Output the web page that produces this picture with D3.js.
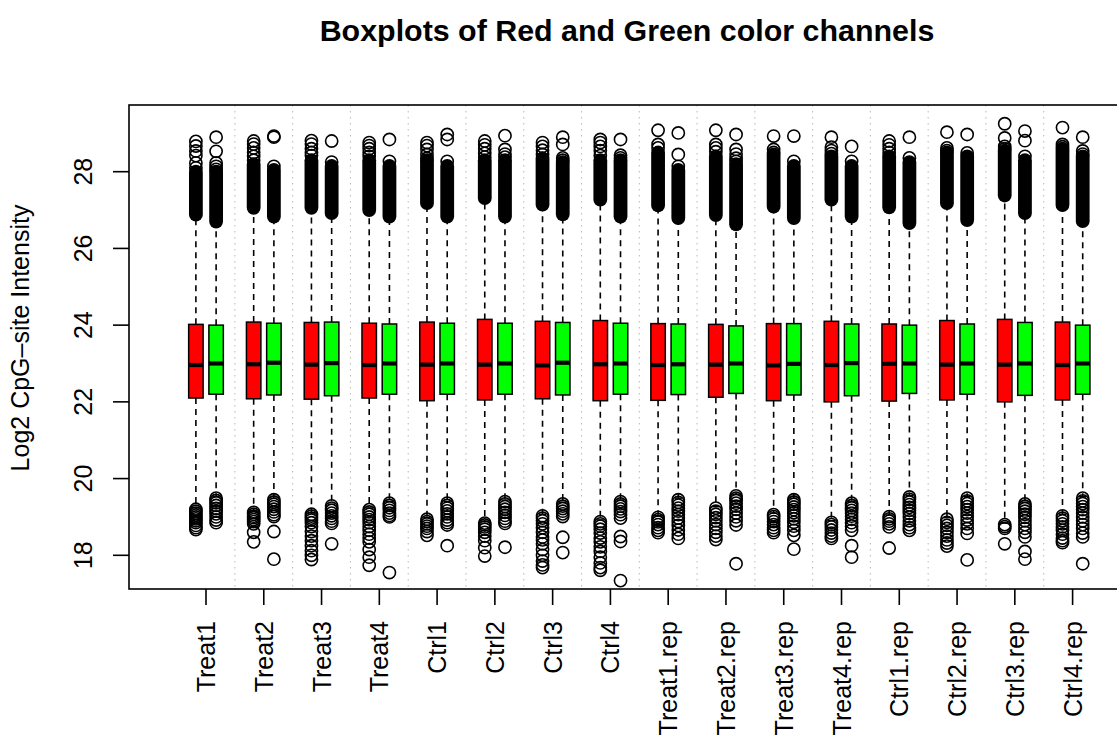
<!DOCTYPE html>
<html><head><meta charset="utf-8">
<script src="https://cdn.jsdelivr.net/npm/d3@7"></script>
<style>
body{margin:0;background:#fff}
svg{display:block}
text{font-family:"Liberation Sans", Arial, Helvetica, sans-serif;fill:#000}
</style>
</head><body>
<svg id="chart" width="1117" height="740"></svg>
<script>
// ---------------- data ----------------
const chartTitle = "Boxplots of Red and Green color channels";
const yLabel = "Log2 CpG–site Intensity";
const samples = ["Treat1","Treat2","Treat3","Treat4","Ctrl1","Ctrl2","Ctrl3","Ctrl4",
  "Treat1.rep","Treat2.rep","Treat3.rep","Treat4.rep","Ctrl1.rep","Ctrl2.rep","Ctrl3.rep","Ctrl4.rep"];
const yTicks = [18,20,22,24,26,28];

// Red channel
const redQ1  = [22.10,22.08,22.07,22.10,22.03,22.05,22.08,22.03,22.04,22.12,22.03,22.00,22.02,22.05,22.00,22.05];
const redMed = [22.96,22.98,22.97,22.96,22.97,22.97,22.95,22.98,22.96,22.97,22.95,22.96,22.99,22.97,22.97,22.96];
const redQ3  = [24.02,24.08,24.07,24.05,24.08,24.15,24.10,24.12,24.04,24.02,24.04,24.10,24.03,24.12,24.15,24.08];
const redWhiskLo = [19.24,19.16,19.11,19.23,18.98,18.88,19.07,18.92,19.03,19.27,19.10,18.90,19.05,18.98,18.84,19.07];
const redWhiskHi = [26.84,27.02,27.02,26.96,27.14,27.27,27.10,27.23,27.08,26.83,27.05,27.23,27.03,27.14,27.34,27.09];
// dense (solid) range of high outliers [low, high]
const redHiDense = [[26.88,28.00],[27.06,28.20],[27.06,28.30],[27.00,28.30],[27.18,28.30],[27.31,28.30],[27.14,28.35],[27.27,28.30],
  [27.12,28.50],[26.87,28.40],[27.09,28.45],[27.27,28.40],[27.07,28.40],[27.18,28.50],[27.38,28.55],[27.13,28.60]];
const redHiOut = [
  [28.79,28.67,28.54,28.42,28.23,28.10],
  [28.80,28.72,28.62,28.50,28.40,28.30],
  [28.81,28.72,28.60,28.50,28.42],
  [28.76,28.68,28.60,28.50,28.40],
  [28.76,28.68,28.58,28.45,28.35],
  [28.80,28.70,28.60,28.48,28.38],
  [28.76,28.66,28.56,28.45],
  [28.84,28.76,28.66,28.55,28.42],
  [29.08,28.71,28.62],
  [29.08,28.71,28.62,28.52],
  [28.93,28.58,28.50],
  [28.90,28.64,28.55,28.47],
  [28.80,28.70,28.60,28.50],
  [29.03,28.62,28.55],
  [29.25,28.88,28.66,28.60],
  [29.15,28.71,28.65]];
const redLoOut = [
  [19.20,19.15,19.10,19.05,19.00,18.95,18.90,18.85,18.78,18.72,18.67],
  [19.12,19.07,19.02,18.98,18.93,18.88,18.82,18.60,18.35],
  [19.07,19.02,18.97,18.92,18.85,18.75,18.62,18.50,18.38,18.25,18.12,18.00,17.89],
  [19.19,19.13,19.07,19.00,18.93,18.85,18.75,18.65,18.55,18.45,18.35,18.15,17.95,17.74],
  [18.94,18.88,18.82,18.76,18.70,18.62,18.52],
  [18.84,18.79,18.74,18.68,18.60,18.50,18.38,18.20,17.98],
  [19.03,18.97,18.90,18.82,18.72,18.60,18.48,18.40,18.30,18.15,18.00,17.85,17.75,17.68],
  [18.88,18.82,18.76,18.68,18.58,18.45,18.35,18.22,18.10,17.95,17.80,17.68,17.61],
  [18.99,18.93,18.87,18.80,18.72,18.65,18.59],
  [19.23,19.15,19.07,18.98,18.90,18.80,18.70,18.60,18.50,18.41],
  [19.06,19.01,18.95,18.88,18.80,18.72,18.65,18.59],
  [18.86,18.80,18.74,18.66,18.58,18.50,18.44],
  [19.01,18.95,18.89,18.82,18.74,18.19],
  [18.94,18.86,18.78,18.70,18.60,18.50,18.40,18.32,18.24],
  [18.80,18.75,18.70,18.30],
  [19.03,18.97,18.90,18.82,18.74,18.65,18.55,18.45,18.38,18.33]];

// Green channel
const greenQ1  = [22.20,22.18,22.16,22.20,22.20,22.20,22.18,22.20,22.19,22.22,22.18,22.16,22.22,22.20,22.17,22.20];
const greenMed = [23.00,23.02,23.01,23.00,23.00,23.00,23.02,23.00,22.98,23.00,22.99,23.01,23.00,23.00,23.00,23.00];
const greenQ3  = [24.00,24.05,24.08,24.03,24.05,24.05,24.07,24.05,24.03,23.98,24.04,24.03,24.00,24.03,24.07,24.00];
const greenWhiskLo = [19.53,19.49,19.33,19.40,19.40,19.44,19.38,19.44,19.49,19.59,19.49,19.40,19.56,19.53,19.38,19.53];
const greenWhiskHi = [26.66,26.79,26.88,26.79,26.79,26.79,26.85,26.79,26.75,26.59,26.75,26.79,26.62,26.70,26.88,26.67];
const greenHiDense = [[26.70,28.00],[26.83,28.05],[26.92,28.15],[26.83,28.15],[26.83,28.15],[26.83,28.30],[26.89,28.25],[26.83,28.30],
  [26.79,28.05],[26.63,28.20],[26.79,28.15],[26.83,28.15],[26.66,28.25],[26.74,28.40],[26.92,28.30],[26.71,28.40]];
const greenHiOut = [
  [28.90,28.53,28.23,28.14,28.06],
  [28.93,28.90,28.14],
  [28.80,28.25],
  [28.84,28.27],
  [28.97,28.84,28.27],
  [28.94,28.58,28.46,28.38],
  [28.90,28.71,28.36,28.30],
  [28.84,28.43,28.36],
  [29.01,28.45,28.14],
  [28.97,28.58,28.46,28.35,28.27],
  [28.93,28.27],
  [28.66,28.27],
  [28.90,28.36],
  [28.97,28.49],
  [29.06,28.81,28.40],
  [28.90,28.54,28.46]];
const greenLoOut = [
  [19.49,19.43,19.37,19.30,19.22,19.15,19.08,19.00,18.92,18.85],
  [19.45,19.39,19.33,19.27,19.20,19.13,19.06,19.01,18.62,17.90],
  [19.29,19.23,19.17,19.10,19.03,18.96,18.89,18.83,18.30],
  [19.36,19.30,19.24,19.17,19.10,19.04,19.00,17.55],
  [19.36,19.30,19.23,19.16,19.08,19.00,18.92,18.85,18.79,18.25],
  [19.40,19.34,19.27,19.20,19.12,19.04,18.96,18.89,18.83,18.21],
  [19.34,19.28,19.22,19.15,19.08,19.01,18.47,18.07],
  [19.40,19.34,19.28,19.21,19.14,19.06,18.97,18.49,18.36,17.34],
  [19.45,19.38,19.31,19.23,19.15,19.06,18.97,18.88,18.78,18.66,18.55,18.44],
  [19.55,19.49,19.43,19.36,19.28,19.20,19.10,19.00,18.90,18.79,17.78],
  [19.45,19.39,19.33,19.26,19.19,19.11,19.03,18.95,18.86,18.76,18.65,18.52,18.16],
  [19.36,19.30,19.24,19.17,19.10,19.02,18.94,18.85,18.76,18.65,18.25,17.95],
  [19.52,19.46,19.39,19.32,19.25,19.17,19.09,19.00,18.90,18.80,18.72,18.65],
  [19.49,19.42,19.35,19.27,19.19,19.10,19.01,18.92,18.82,18.70,18.57,17.88],
  [19.34,19.28,19.22,19.15,19.07,18.99,18.90,18.80,18.70,18.60,18.48,18.10,17.90],
  [19.49,19.42,19.35,19.27,19.19,19.10,19.00,18.90,18.80,18.70,18.58,18.48,17.78]];

// ---------------- drawing ----------------
const svg = d3.select("#chart");
const plot = {left:129, top:105, bottom:589, right:1150};
const x = d3.scaleLinear().domain([1,16]).range([206,1072.6]);
const y = d3.scaleLinear().domain([18,28]).range([555.3,171.7]);
const pos = d3.scaleOrdinal().domain(samples).range(d3.range(1,17));
const offset = 0.175, boxW = 0.25;
const pxBox = x(1+boxW)-x(1);
const r = 6.1, sw = 1.6;

// grid lines between samples
svg.append("g").selectAll("line").data(samples.slice(0,-1)).join("line")
  .attr("x1", d=>x(pos(d)+0.5)).attr("x2", d=>x(pos(d)+0.5))
  .attr("y1", plot.top).attr("y2", plot.bottom)
  .attr("stroke","#bebebe").attr("stroke-width",1.1).attr("stroke-dasharray","1.5,4.5");

const channels = [
  {off:-offset, fill:"#ff0000", q1:redQ1, med:redMed, q3:redQ3, wl:redWhiskLo, wh:redWhiskHi, dense:redHiDense, hi:redHiOut, lo:redLoOut},
  {off: offset, fill:"#00ff00", q1:greenQ1, med:greenMed, q3:greenQ3, wl:greenWhiskLo, wh:greenWhiskHi, dense:greenHiDense, hi:greenHiOut, lo:greenLoOut}
];

channels.forEach(ch => {
  const g = svg.append("g");
  const items = samples.map((s,i)=>({s,i,cx:x(pos(s)+ch.off)}));
  // whiskers
  g.selectAll(".wu").data(items).join("line")
    .attr("x1",d=>d.cx).attr("x2",d=>d.cx)
    .attr("y1",d=>y(ch.q3[d.i])).attr("y2",d=>y(ch.wh[d.i]))
    .attr("stroke","#000").attr("stroke-width",1.6).attr("stroke-dasharray","6,5");
  g.selectAll(".wl").data(items).join("line")
    .attr("x1",d=>d.cx).attr("x2",d=>d.cx)
    .attr("y1",d=>y(ch.q1[d.i])).attr("y2",d=>y(ch.wl[d.i]))
    .attr("stroke","#000").attr("stroke-width",1.6).attr("stroke-dasharray","6,5");
  // staples
  ["wh","wl"].forEach(k=>{
    g.append("g").selectAll("line").data(items).join("line")
      .attr("x1",d=>d.cx-pxBox/4).attr("x2",d=>d.cx+pxBox/4)
      .attr("y1",d=>y(ch[k][d.i])).attr("y2",d=>y(ch[k][d.i]))
      .attr("stroke","#000").attr("stroke-width",1.5);
  });
  // boxes
  g.append("g").selectAll("rect").data(items).join("rect")
    .attr("x",d=>d.cx-pxBox/2).attr("width",pxBox)
    .attr("y",d=>y(ch.q3[d.i])).attr("height",d=>y(ch.q1[d.i])-y(ch.q3[d.i]))
    .attr("fill",ch.fill).attr("stroke","#000").attr("stroke-width",1.5);
  // medians
  g.append("g").selectAll("line").data(items).join("line")
    .attr("x1",d=>d.cx-pxBox/2).attr("x2",d=>d.cx+pxBox/2)
    .attr("y1",d=>y(ch.med[d.i])).attr("y2",d=>y(ch.med[d.i]))
    .attr("stroke","#000").attr("stroke-width",4.2);
  // dense high-outlier band
  const ow = 2*r+sw;
  g.append("g").selectAll("rect").data(items).join("rect")
    .attr("x",d=>d.cx-ow/2).attr("width",ow)
    .attr("y",d=>y(ch.dense[d.i][1])-ow/2)
    .attr("height",d=>y(ch.dense[d.i][0])-y(ch.dense[d.i][1])+ow)
    .attr("rx",ow/2).attr("fill","#000");
  // individual outliers
  const pts = [];
  items.forEach(d=>{
    ch.hi[d.i].forEach(v=>pts.push({cx:d.cx,v}));
    ch.lo[d.i].forEach(v=>pts.push({cx:d.cx,v}));
  });
  g.append("g").selectAll("circle").data(pts).join("circle")
    .attr("cx",d=>d.cx).attr("cy",d=>y(d.v)).attr("r",r)
    .attr("fill","none").attr("stroke","#000").attr("stroke-width",sw);
});

// plot frame
svg.append("rect").attr("x",plot.left).attr("y",plot.top)
  .attr("width",plot.right-plot.left).attr("height",plot.bottom-plot.top)
  .attr("fill","none").attr("stroke","#000").attr("stroke-width",1.6);

// y axis
const ya = svg.append("g");
ya.selectAll("line").data(yTicks).join("line")
  .attr("x1",plot.left-16).attr("x2",plot.left)
  .attr("y1",d=>y(d)).attr("y2",d=>y(d)).attr("stroke","#000").attr("stroke-width",1.6);
ya.selectAll("text").data(yTicks).join("text")
  .attr("transform",d=>`translate(92,${y(d)}) rotate(-90)`)
  .attr("text-anchor","middle").attr("font-size",25).text(d=>d);

// x axis
const xa = svg.append("g");
xa.selectAll("line").data(samples).join("line")
  .attr("x1",d=>x(pos(d))).attr("x2",d=>x(pos(d)))
  .attr("y1",plot.bottom).attr("y2",plot.bottom+16).attr("stroke","#000").attr("stroke-width",1.6);
xa.selectAll("text").data(samples).join("text")
  .attr("transform",d=>`translate(${x(pos(d))+9},621) rotate(-90)`)
  .attr("text-anchor","end").attr("font-size",25).text(d=>d);

// labels
svg.append("text").attr("transform","translate(29,338) rotate(-90)")
  .attr("text-anchor","middle").attr("font-size",25).text(yLabel);
svg.append("text").attr("x",627).attr("y",41)
  .attr("text-anchor","middle").attr("font-size",30.4).attr("font-weight","bold").text(chartTitle);
</script>
</body></html>
